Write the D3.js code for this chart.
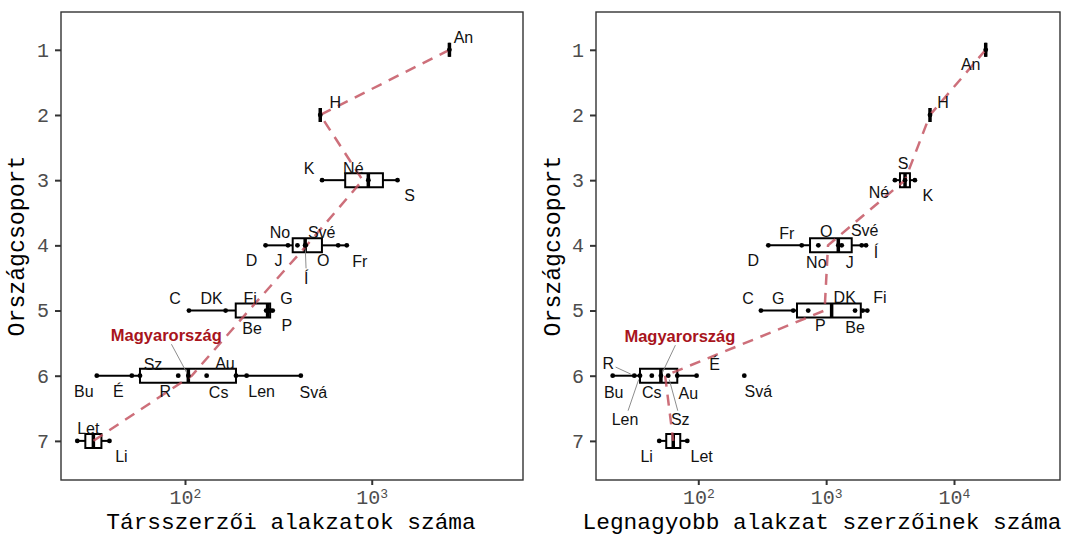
<!DOCTYPE html>
<html><head><meta charset="utf-8">
<script src="https://cdn.jsdelivr.net/npm/d3@7"></script>
<style>body{margin:0;background:#fff} svg{display:block}</style>
</head><body><svg id="c" width="1069" height="537"></svg>
<script>
// ---------- DATA ----------
const groupTicks = [1, 2, 3, 4, 5, 6, 7];

// Left panel: Társszerzői alakzatok száma
const leftCountries = ["An","H","K","Né","S","D","No","J","Í","Své","O","Fr","C","DK","Fi","Be","G","P","Bu","É","Sz","R","Magyarország","Cs","Au","Len","Svá","Let","Li"];
const leftGroups    = [1,2,3,3,3,4,4,4,4,4,4,4,5,5,5,5,5,5,6,6,6,6,6,6,6,6,6,7,7];
const leftValues    = [2606,530,542,959,1374,270,356,400,440,443,661,735,105,165,272,282,287,295,33.7,51.9,57.4,92,104.2,130.6,187.5,213.8,417,26.5,39.4];
const leftXTicks    = [100, 1000];

// Right panel: Legnagyobb alakzat szerzőinek száma
const rightCountries = ["An","H","Né","S","K","D","Fr","No","O","J","Své","Í","C","G","P","Be","DK","Fi","Bu","R","Len","Cs","Magyarország","Sz","Au","É","Svá","Li","Let"];
const rightGroups    = [1,2,3,3,3,4,4,4,4,4,4,4,5,5,5,5,5,5,6,6,6,6,6,6,6,6,6,7,7];
const rightValues    = [17700,6490,3451,4140,4943,353,644,869,1245,1324,1897,2051,309,553,724,1683,1932,2099,21.4,31.6,35,43.3,51,58.2,68.5,97,229,49.5,82];
const rightXTicks    = [100, 1000, 10000];

const highlight = "Magyarország";

// ---------- LAYOUT (label nudges, px) ----------
const leftLabelOffsets = {
  "An":[14,-12], "H":[15,-12], "K":[-13,-12], "Né":[-15,-12], "S":[12,15],
  "D":[-14,15], "No":[-8,-13], "J":[-19,15], "Í":[1,33], "Své":[16,-13], "O":[-15,15], "Fr":[13,16],
  "C":[-14,-12], "DK":[-14,-12], "Fi":[-16,-12], "G":[16,-12], "Be":[-17,18], "P":[14,15],
  "Bu":[-13,16], "É":[-13.5,16], "Sz":[13,-11], "R":[-13,16], "Magyarország":[-22,-41], "Cs":[12,17], "Au":[-11,-12], "Len":[15,16], "Svá":[12.5,17],
  "Let":[11,-12], "Li":[12,16]
};
const leftSegments = ["Í", "Magyarország"];

const rightLabelOffsets = {
  "An":[-15,15], "H":[13,-12], "S":[-2,-17], "Né":[-16,12], "K":[13,15],
  "D":[-15,15], "Fr":[-15,-12], "No":[-2,17], "O":[-12,-14], "J":[8,17], "Své":[3,-15], "Í":[10,7],
  "C":[-13,-12], "G":[-15,-12], "DK":[-18,-13], "Fi":[12.5,-13], "P":[12,15], "Be":[0,17],
  "Bu":[1,17], "R":[-26,-12], "Len":[-15,44], "Cs":[0,17], "Magyarország":[19,-40], "Sz":[12,44], "Au":[11,17.5], "É":[18,-11], "Svá":[14,16],
  "Li":[-12.6,16], "Let":[14.4,16]
};
const rightSegments = ["R", "Len", "Magyarország", "Sz"];

// ---------- DRAW ----------
const svg = d3.select("#c");
svg.append("rect").attr("width",1069).attr("height",537).attr("fill","#fff");

const TOP = 12, BOTTOM = 480;
const yScale = d3.scaleLinear().domain([0.42, 7.6]).range([TOP, BOTTOM]);
const MONO = "'Liberation Mono','Courier New',monospace";
const SANS = "'Liberation Sans',Arial,sans-serif";

function drawPanel(p) {
  const g = svg.append("g");
  const x = d3.scaleLog().domain(p.xDomain).range([p.left, p.right]);
  const y = yScale;
  const X = lv => x(Math.pow(10, lv));

  const rows = p.countries.map((c, i) => ({c, g: p.groups[i], v: p.values[i], lv: Math.log10(p.values[i])}));
  const stats = Array.from(d3.group(rows, d => d.g), ([grp, arr]) => {
    const lv = arr.map(d => d.lv).sort(d3.ascending);
    const q1 = d3.quantile(lv, 0.25), med = d3.quantile(lv, 0.5), q3 = d3.quantile(lv, 0.75);
    const iqr = q3 - q1;
    const lo = d3.min(lv.filter(v => v >= q1 - 1.5 * iqr));
    const hi = d3.max(lv.filter(v => v <= q3 + 1.5 * iqr));
    return {grp, q1, med, q3, lo, hi, mean: d3.mean(lv)};
  }).sort((a, b) => a.grp - b.grp);

  // axes
  const xAxis = g.append("g").attr("transform", `translate(0,${BOTTOM})`)
    .call(d3.axisBottom(x).tickValues(p.xTicks).tickSize(5).tickPadding(5).tickFormat(""));
  xAxis.select(".domain").remove();
  xAxis.selectAll(".tick line").attr("stroke", "#333").attr("stroke-width", 2);
  xAxis.selectAll(".tick text").each(function(d) {
    const t = d3.select(this).attr("font-family", MONO).attr("font-size", 20).attr("fill", "#4d4d4d")
      .attr("text-anchor", "middle");
    t.text(null);
    t.append("tspan").text("10");
    t.append("tspan").attr("font-size", 13).attr("dy", -6).text(Math.round(Math.log10(d)));
  });

  const yAxis = g.append("g").attr("transform", `translate(${p.left},0)`)
    .call(d3.axisLeft(y).tickValues(groupTicks).tickSize(6).tickPadding(6).tickFormat(d3.format("d")));
  yAxis.select(".domain").remove();
  yAxis.selectAll(".tick line").attr("stroke", "#333").attr("stroke-width", 2);
  yAxis.selectAll(".tick text").attr("font-family", MONO).attr("font-size", 20).attr("fill", "#4d4d4d");

  // titles
  g.append("text").attr("x", p.xTitleX).attr("y", 529).attr("text-anchor", "middle")
    .attr("font-family", MONO).attr("font-size", 22.8).attr("fill", "#000").text(p.xTitle);
  g.append("text").attr("transform", `translate(${p.yTitleX},${(TOP + BOTTOM) / 2}) rotate(-90)`)
    .attr("text-anchor", "middle").attr("font-family", MONO).attr("font-size", 23.2).attr("fill", "#000")
    .text("Országcsoport");

  const H = 7;
  // whiskers
  g.selectAll(".wl").data(stats).join("line")
    .attr("x1", d => X(d.lo)).attr("x2", d => X(d.q1)).attr("y1", d => y(d.grp)).attr("y2", d => y(d.grp))
    .attr("stroke", "#000").attr("stroke-width", 2);
  g.selectAll(".wr").data(stats).join("line")
    .attr("x1", d => X(d.q3)).attr("x2", d => X(d.hi)).attr("y1", d => y(d.grp)).attr("y2", d => y(d.grp))
    .attr("stroke", "#000").attr("stroke-width", 2);
  // boxes
  g.selectAll(".box").data(stats).join("path")
    .attr("d", d => `M${X(d.q1)},${y(d.grp) - H}H${X(d.q3)}V${y(d.grp) + H}H${X(d.q1)}Z`)
    .attr("fill", "#fff").attr("stroke", "#000").attr("stroke-width", 2);
  g.selectAll(".med").data(stats).join("line")
    .attr("x1", d => X(d.med)).attr("x2", d => X(d.med)).attr("y1", d => y(d.grp) - H).attr("y2", d => y(d.grp) + H)
    .attr("stroke", "#000").attr("stroke-width", 3.5);

  // trend line through group means
  g.append("path").datum(stats)
    .attr("d", d3.line().x(d => X(d.mean)).y(d => y(d.grp)))
    .attr("fill", "none").attr("stroke", "#c24f5d").attr("stroke-opacity", 0.82)
    .attr("stroke-width", 2.5).attr("stroke-dasharray", "11,8");

  // points
  g.selectAll(".pt").data(rows).join("circle")
    .attr("cx", d => x(d.v)).attr("cy", d => y(d.g)).attr("r", 2.4).attr("fill", "#000");

  // labels
  const segLayer = g.append("g");
  const labLayer = g.append("g");
  rows.forEach(d => {
    const off = p.offsets[d.c] || [0, -12];
    const px = x(d.v), py = y(d.g);
    const lx = px + off[0], ly = py + off[1];
    const isH = d.c === highlight;
    const t = labLayer.append("text").attr("x", lx).attr("y", ly)
      .attr("text-anchor", "middle").attr("dominant-baseline", "central")
      .attr("font-family", SANS).attr("font-size", isH ? 16.5 : 16)
      .attr("font-weight", isH ? "bold" : "normal")
      .attr("fill", isH ? "#a8141c" : "#111").text(d.c);
    if (p.segments.includes(d.c)) {
      const b = t.node().getBBox();
      const cx = b.x + b.width / 2, cy = b.y + b.height / 2;
      const dx = px - cx, dy = py - cy, len = Math.hypot(dx, dy);
      const ux = dx / len, uy = dy / len;
      const hw = b.width / 2 + 1.5, hh = b.height / 2 + 0.5;
      const tx = ux !== 0 ? hw / Math.abs(ux) : Infinity;
      const ty = uy !== 0 ? hh / Math.abs(uy) : Infinity;
      const ts = Math.min(tx, ty);
      segLayer.append("line")
        .attr("x1", cx + ux * ts).attr("y1", cy + uy * ts)
        .attr("x2", px - ux * 4).attr("y2", py - uy * 4)
        .attr("stroke", "#808080").attr("stroke-width", 0.9);
    }
  });

  // panel border
  g.append("rect").attr("x", p.left).attr("y", TOP).attr("width", p.right - p.left).attr("height", BOTTOM - TOP)
    .attr("fill", "none").attr("stroke", "#333").attr("stroke-width", 1.4);
}

drawPanel({
  countries: leftCountries, groups: leftGroups, values: leftValues, xTicks: leftXTicks,
  xDomain: [Math.pow(10, 1.336), Math.pow(10, 3.81)], left: 61, right: 523,
  xTitle: "Társszerzői alakzatok száma", xTitleX: 291, yTitleX: 24,
  offsets: leftLabelOffsets, segments: leftSegments
});
drawPanel({
  countries: rightCountries, groups: rightGroups, values: rightValues, xTicks: rightXTicks,
  xDomain: [Math.pow(10, 1.2), Math.pow(10, 4.829)], left: 596, right: 1060,
  xTitle: "Legnagyobb alakzat szerzőinek száma", xTitleX: 822, yTitleX: 560,
  offsets: rightLabelOffsets, segments: rightSegments
});
</script>
</body></html>
